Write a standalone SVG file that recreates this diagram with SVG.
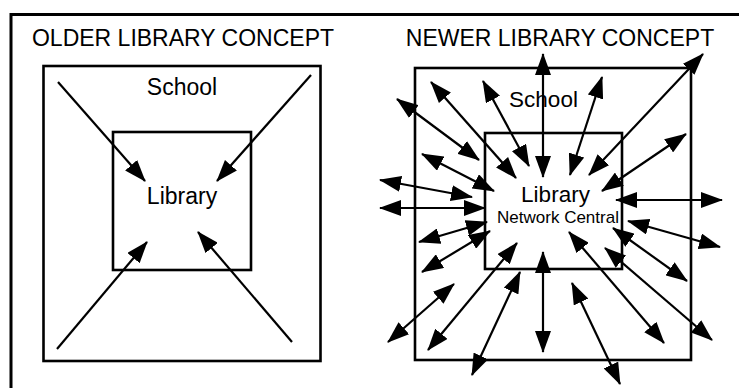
<svg xmlns="http://www.w3.org/2000/svg" width="739" height="388" viewBox="0 0 739 388">
<style>
.t{font-family:"Liberation Sans",Arial,sans-serif;fill:#000;text-anchor:middle}
.box{fill:none;stroke:#000;stroke-width:2.6}
.a1{stroke:#000;stroke-width:2.2;fill:none;marker-end:url(#ah)}
.a2{stroke:#000;stroke-width:2.2;fill:none;marker-end:url(#ah);marker-start:url(#ah)}
</style>
<defs>
<marker id="ah" viewBox="0 0 22 16" refX="21" refY="8" markerWidth="22" markerHeight="16" markerUnits="userSpaceOnUse" orient="auto-start-reverse">
<path d="M0,0 L22,8 L0,16 z" fill="#000"/>
</marker>
</defs>
<rect width="739" height="388" fill="#fff"/>
<path d="M11,388 L11,14.5 L739,14.5" fill="none" stroke="#000" stroke-width="3"/>
<g id="older">
<text class="t" x="183" y="46" font-size="23">OLDER LIBRARY CONCEPT</text>
<g id="school-old">
<rect class="box" x="43.5" y="66" width="277" height="295"/>
<text class="t" x="182" y="95" font-size="23">School</text>
</g>
<g id="library-old">
<rect class="box" x="113" y="132" width="138" height="138"/>
<text class="t" x="182" y="204" font-size="23">Library</text>
</g>
</g>
<g id="newer">
<text class="t" x="560" y="46" font-size="23">NEWER LIBRARY CONCEPT</text>
<g id="school-new">
<rect class="box" x="415" y="68" width="276" height="292"/>
<text class="t" x="543.5" y="107" font-size="22.5">School</text>
</g>
<g id="library-new">
<rect class="box" x="485" y="133" width="137" height="136"/>
<text class="t" x="555.5" y="202" font-size="22.5">Library</text>
<text class="t" x="558" y="223" font-size="17">Network Central</text>
</g>
</g>
<g id="connectors">
<line class="a1" x1="58" y1="82" x2="145" y2="181"/>
<line class="a1" x1="311" y1="75" x2="217" y2="181"/>
<line class="a1" x1="57" y1="349" x2="147" y2="242"/>
<line class="a1" x1="292" y1="342" x2="198" y2="232"/>
<line class="a2" x1="543" y1="54" x2="543" y2="177"/>
<line class="a2" x1="703" y1="54" x2="589" y2="175"/>
<line class="a2" x1="602" y1="77" x2="570" y2="175"/>
<line class="a2" x1="483" y1="81" x2="529" y2="166"/>
<line class="a2" x1="431" y1="82" x2="516" y2="178"/>
<line class="a2" x1="397" y1="99" x2="479" y2="160"/>
<line class="a2" x1="422" y1="154" x2="494" y2="191"/>
<line class="a2" x1="380" y1="180" x2="472" y2="197"/>
<line class="a2" x1="380" y1="208" x2="485" y2="208"/>
<line class="a2" x1="419" y1="242" x2="487" y2="222"/>
<line class="a2" x1="422" y1="272" x2="490" y2="231"/>
<line class="a2" x1="388" y1="342" x2="454" y2="284"/>
<line class="a2" x1="428" y1="350" x2="517" y2="243"/>
<line class="a2" x1="472" y1="375" x2="520" y2="272"/>
<line class="a2" x1="543" y1="252" x2="543" y2="352"/>
<line class="a2" x1="572" y1="283" x2="620" y2="384"/>
<line class="a2" x1="569" y1="232" x2="664" y2="343"/>
<line class="a2" x1="605" y1="248" x2="712" y2="340"/>
<line class="a2" x1="628" y1="221" x2="720" y2="247"/>
<line class="a2" x1="616" y1="200" x2="722" y2="200"/>
<line class="a2" x1="602" y1="191" x2="686" y2="134"/>
<line class="a2" x1="613" y1="228" x2="687" y2="281"/>
</g>
</svg>
